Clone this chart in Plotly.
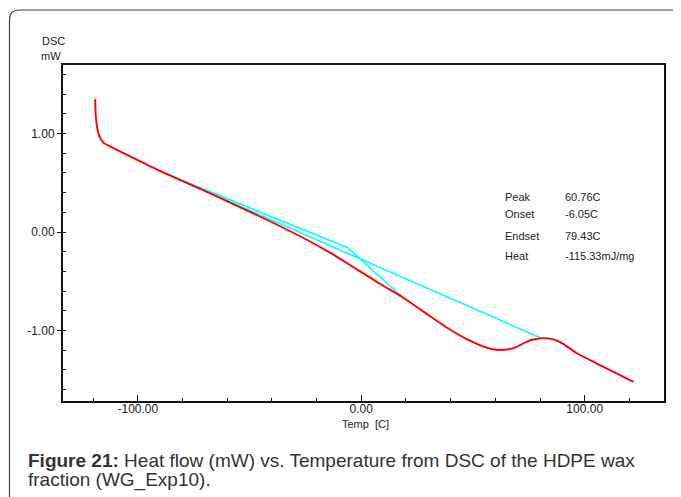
import plotly.graph_objects as go

# DSC curve (red)
temp_red = [-119.1, -118.9, -118.2, -117.0, -115.3, -113.0, -100.0, -88.4, -66.1, -45.1,
            -25.0, -12.5, 8.5, 18.2, 32.1, 39.7, 47.0, 53.1, 58.0, 62.1, 66.0, 69.5, 75.4,
            81.3, 86.0, 90.0, 96.4, 105.0, 121.9]
dsc_red = [1.35, 1.20, 1.06, 0.96, 0.905, 0.875, 0.73, 0.602, 0.376, 0.155,
           -0.071, -0.23, -0.528, -0.657, -0.875, -0.99, -1.085, -1.147, -1.185, -1.198, -1.19, -1.165, -1.10,
           -1.077, -1.09, -1.13, -1.23, -1.33, -1.52]

# baseline (cyan) from start to endset
temp_base = [-88.4, 80.4]
dsc_base = [0.602, -1.076]

# onset tangent construction (cyan)
temp_tan = [-88.4, -6.05, 18.2]
dsc_tan = [0.602, -0.16, -0.657]

x_tickvals = [-100, 0, 100]
x_ticktext = ["-100.00", "0.00", "100.00"]
y_tickvals = [-1, 0, 1]
y_ticktext = ["-1.00", "0.00", "1.00"]

info_labels = ["Peak", "Onset", "Endset", "Heat"]
info_values = ["60.76C", "-6.05C", "79.43C", "-115.33mJ/mg"]
info_y = [0.607, 0.557, 0.491, 0.432]

fig = go.Figure()
fig.add_trace(go.Scatter(x=temp_base, y=dsc_base, mode="lines",
                         line=dict(color="#00ffff", width=1.6), hoverinfo="skip"))
fig.add_trace(go.Scatter(x=temp_tan, y=dsc_tan, mode="lines",
                         line=dict(color="#00ffff", width=1.6), hoverinfo="skip"))
fig.add_trace(go.Scatter(x=temp_red, y=dsc_red, mode="lines",
                         line=dict(color="#ff0000", width=1.9, shape="spline", smoothing=0.5),
                         hoverinfo="skip"))

FONT = "Liberation Sans, Arial, sans-serif"
axis_font = dict(family=FONT, size=12, color="#222")

# page body has an 8px margin; figure is sized/margined to compensate
fig.update_layout(
    width=673, height=489,
    margin=dict(l=55, r=17, t=57, b=96),
    paper_bgcolor="white", plot_bgcolor="white",
    showlegend=False,
    font=axis_font,
    xaxis=dict(range=[-133.5, 135.5], showgrid=False, zeroline=False,
               showline=True, linecolor="#111", linewidth=2, mirror=True,
               tickmode="array", tickvals=x_tickvals, ticktext=x_ticktext,
               ticks="inside", ticklen=6, tickcolor="#111", tickwidth=1,
               ticklabelstandoff=-4,
               minor=dict(tickmode="linear", tick0=0, dtick=20, ticks="inside",
                          ticklen=3, tickcolor="#111", tickwidth=1),
               tickfont=axis_font),
    yaxis=dict(range=[-1.715, 1.695], showgrid=False, zeroline=False,
               showline=True, linecolor="#111", linewidth=2, mirror=True,
               tickmode="array", tickvals=y_tickvals, ticktext=y_ticktext,
               ticks="outside", ticklen=4, tickcolor="#111", tickwidth=1,
               minor=dict(tickmode="linear", tick0=0, dtick=0.2, ticks="inside",
                          ticklen=3, tickcolor="#111", tickwidth=1),
               tickfont=axis_font),
)

W, H = 601, 336  # plot area size in px
def px(x):
    return (x - 63) / W
def py(y):
    return 1 - (y - 65) / H

small = dict(family=FONT, size=11, color="#222")
ann = []
ann.append(dict(text="DSC", xref="paper", yref="paper", x=px(40), y=py(41),
                xanchor="left", yanchor="middle", showarrow=False, font=small))
ann.append(dict(text="mW", xref="paper", yref="paper", x=px(39), y=py(56),
                xanchor="left", yanchor="middle", showarrow=False, font=small))
ann.append(dict(text="Temp  [C]", xref="paper", yref="paper", x=px(365), y=py(424),
                xanchor="center", yanchor="middle", showarrow=False, font=small))
for lab, val, yy in zip(info_labels, info_values, info_y):
    ann.append(dict(text=lab, xref="paper", yref="paper", x=px(503), y=yy, xanchor="left",
                    yanchor="middle", showarrow=False, font=small))
    ann.append(dict(text=val, xref="paper", yref="paper", x=px(563), y=yy, xanchor="left",
                    yanchor="middle", showarrow=False, font=small))
cap_font = dict(family=FONT, size=19, color="#333")
ann.append(dict(text="<b>Figure 21:</b> Heat flow (mW) vs. Temperature from DSC of the HDPE wax",
                xref="paper", yref="paper", x=px(26), y=py(460),
                xanchor="left", yanchor="middle", showarrow=False, font=cap_font))
ann.append(dict(text="fraction (WG_Exp10).",
                xref="paper", yref="paper", x=px(26), y=py(480),
                xanchor="left", yanchor="middle", showarrow=False, font=cap_font))
fig.update_layout(annotations=ann)

# outer rounded frame
x0 = px(9.5)
ytop = py(10)
rx = 10 / W
ry = 10 / H
path = f"M {x0},-0.5 L {x0},{ytop - ry} Q {x0},{ytop} {x0 + rx},{ytop} L 1.2,{ytop}"
fig.add_shape(type="path", path=path, xref="paper", yref="paper",
              line=dict(color="#444", width=1.2), layer="above")

fig.write_html("out.html")
